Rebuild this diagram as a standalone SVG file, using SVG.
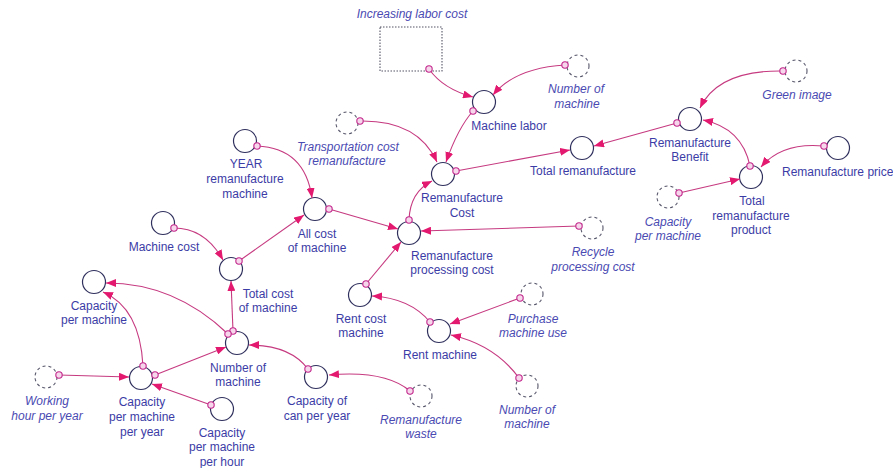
<svg xmlns="http://www.w3.org/2000/svg" width="893" height="468" viewBox="0 0 893 468">
  <defs>
    <marker id="arrow" markerUnits="userSpaceOnUse" markerWidth="11" markerHeight="8" refX="10" refY="4" orient="auto">
      <path d="M0,0 L10,4 L0,8 z" fill="#e3186f"/>
    </marker>
    <style>
      text { font-family: "Liberation Sans", Arial, sans-serif; font-size: 12px; fill: #3c3ca6; text-anchor: middle; }
      text.it { font-style: italic; fill: #4a4ab2; }
      .aux { fill: #ffffff; stroke: #30305e; stroke-width: 1.2; }
      .shadow { fill: #ffffff; stroke: #55556a; stroke-width: 1.1; stroke-dasharray: 3 3; }
      .stock { fill: #ffffff; stroke: #555566; stroke-width: 1.1; stroke-dasharray: 1.5 1.5; }
      .link { fill: none; stroke: #c63a80; stroke-width: 1.1; marker-end: url(#arrow); }
      .tail { fill: #f6d6ea; stroke: #c2278c; stroke-width: 1.1; }
    </style>
  </defs>
  <rect width="893" height="468" fill="#ffffff"/>

  <!-- nodes -->
  <g id="increasing-labor-cost">
    <rect class="stock" x="380" y="27" width="62" height="44"/>
    <text class="it" x="412" y="18">Increasing labor cost</text>
  </g>
  <g id="machine-labor">
    <circle class="aux" cx="484" cy="102" r="11.5"/>
    <text x="509" y="130">Machine labor</text>
  </g>
  <g id="number-of-machine-top">
    <circle class="shadow" cx="578" cy="66" r="11"/>
    <text class="it" x="576" y="93">Number of</text>
    <text class="it" x="577" y="108">machine</text>
  </g>
  <g id="transportation-cost">
    <circle class="shadow" cx="347" cy="123" r="11"/>
    <text class="it" x="348" y="151">Transportation cost</text>
    <text class="it" x="347" y="165">remanufacture</text>
  </g>
  <g id="remanufacture-cost">
    <circle class="aux" cx="443" cy="174" r="11.5"/>
    <text x="462" y="202">Remanufacture</text>
    <text x="462" y="217">Cost</text>
  </g>
  <g id="total-remanufacture">
    <circle class="aux" cx="582" cy="148" r="11.5"/>
    <text x="583" y="175">Total remanufacture</text>
  </g>
  <g id="green-image">
    <circle class="shadow" cx="796" cy="71" r="11"/>
    <text class="it" x="797" y="99">Green image</text>
  </g>
  <g id="remanufacture-benefit">
    <circle class="aux" cx="690" cy="119" r="11.5"/>
    <text x="690" y="147">Remanufacture</text>
    <text x="690" y="161">Benefit</text>
  </g>
  <g id="total-remanufacture-product">
    <circle class="aux" cx="751" cy="177" r="11.5"/>
    <text x="752" y="205">Total</text>
    <text x="751" y="220">remanufacture</text>
    <text x="751" y="234">product</text>
  </g>
  <g id="remanufacture-price">
    <circle class="aux" cx="838" cy="148" r="11.5"/>
    <text x="782" y="176" style="text-anchor:start">Remanufacture price</text>
  </g>
  <g id="capacity-per-machine-shadow">
    <circle class="shadow" cx="668" cy="197" r="11"/>
    <text class="it" x="668" y="226">Capacity</text>
    <text class="it" x="668" y="240">per machine</text>
  </g>
  <g id="year-remanufacture-machine">
    <circle class="aux" cx="245" cy="141" r="11.5"/>
    <text x="246" y="168">YEAR</text>
    <text x="245" y="183">remanufacture</text>
    <text x="245" y="198">machine</text>
  </g>
  <g id="all-cost-of-machine">
    <circle class="aux" cx="315" cy="209" r="11.5"/>
    <text x="317" y="238">All cost</text>
    <text x="317" y="252">of machine</text>
  </g>
  <g id="remanufacture-processing-cost">
    <circle class="aux" cx="409" cy="233" r="11.5"/>
    <text x="452" y="260">Remanufacture</text>
    <text x="452" y="274">processing cost</text>
  </g>
  <g id="recycle-processing-cost">
    <circle class="shadow" cx="592" cy="228" r="11"/>
    <text class="it" x="593" y="256">Recycle</text>
    <text class="it" x="593" y="271">processing cost</text>
  </g>
  <g id="machine-cost">
    <circle class="aux" cx="163" cy="223" r="11.5"/>
    <text x="164" y="251">Machine cost</text>
  </g>
  <g id="total-cost-of-machine">
    <circle class="aux" cx="231" cy="269" r="11.5"/>
    <text x="268" y="298">Total cost</text>
    <text x="268" y="312">of machine</text>
  </g>
  <g id="capacity-per-machine">
    <circle class="aux" cx="94" cy="282" r="11.5"/>
    <text x="94" y="310">Capacity</text>
    <text x="94" y="324">per machine</text>
  </g>
  <g id="number-of-machine">
    <circle class="aux" cx="237" cy="343" r="11.5"/>
    <text x="238" y="372">Number of</text>
    <text x="238" y="386">machine</text>
  </g>
  <g id="working-hour-per-year">
    <circle class="shadow" cx="46" cy="377" r="11"/>
    <text class="it" x="47" y="405">Working</text>
    <text class="it" x="47" y="420">hour per year</text>
  </g>
  <g id="capacity-per-machine-per-year">
    <circle class="aux" cx="141" cy="378" r="11.5"/>
    <text x="142" y="406">Capacity</text>
    <text x="142" y="421">per machine</text>
    <text x="142" y="436">per year</text>
  </g>
  <g id="capacity-per-machine-per-hour">
    <circle class="aux" cx="222" cy="409" r="11.5"/>
    <text x="222" y="437">Capacity</text>
    <text x="222" y="451">per machine</text>
    <text x="222" y="466">per hour</text>
  </g>
  <g id="capacity-of-can-per-year">
    <circle class="aux" cx="316" cy="377" r="11.5"/>
    <text x="317" y="405">Capacity of</text>
    <text x="317" y="420">can per year</text>
  </g>
  <g id="remanufacture-waste">
    <circle class="shadow" cx="421" cy="396" r="11"/>
    <text class="it" x="421" y="424">Remanufacture</text>
    <text class="it" x="421" y="438">waste</text>
  </g>
  <g id="rent-cost-machine">
    <circle class="aux" cx="360" cy="295" r="11.5"/>
    <text x="361" y="323">Rent cost</text>
    <text x="361" y="337">machine</text>
  </g>
  <g id="rent-machine">
    <circle class="aux" cx="439" cy="331" r="11.5"/>
    <text x="440" y="359">Rent machine</text>
  </g>
  <g id="purchase-machine-use">
    <circle class="shadow" cx="532" cy="294" r="11"/>
    <text class="it" x="533" y="323">Purchase</text>
    <text class="it" x="533" y="337">machine use</text>
  </g>
  <g id="number-of-machine-bottom">
    <circle class="shadow" cx="527" cy="386" r="11"/>
    <text class="it" x="527" y="414">Number of</text>
    <text class="it" x="527" y="428">machine</text>
  </g>

  <!-- connectors -->
  <g id="connectors">
    <path class="link" d="M429,69 Q443,89 473,97"/>
    <path class="link" d="M565,65 Q515,68 493,95"/>
    <path class="link" d="M473,111 Q458,128 446,162"/>
    <path class="link" d="M360,121 Q418,120 437,162"/>
    <path class="link" d="M456,171 L570,150"/>
    <path class="link" d="M677,123 L594,146"/>
    <path class="link" d="M783,71 Q718,70 700,108"/>
    <path class="link" d="M750,166 Q742,128 703,120"/>
    <path class="link" d="M824,146 Q782,142 761,167"/>
    <path class="link" d="M679,193 L740,179"/>
    <path class="link" d="M257,146 Q305,148 312,198"/>
    <path class="link" d="M329,209 L398,229"/>
    <path class="link" d="M409,220 Q410,192 432,181"/>
    <path class="link" d="M579,226 L421,231"/>
    <path class="link" d="M366,284 L401,242"/>
    <path class="link" d="M174,228 Q205,228 223,260"/>
    <path class="link" d="M239,261 L304,215"/>
    <path class="link" d="M233,331 L231,281"/>
    <path class="link" d="M228,334 Q175,283 106,283"/>
    <path class="link" d="M143,366 Q140,308 103,292"/>
    <path class="link" d="M59,375 L129,377"/>
    <path class="link" d="M155,375 L226,347"/>
    <path class="link" d="M211,405 L152,384"/>
    <path class="link" d="M308,369 Q290,345 249,345"/>
    <path class="link" d="M410,391 Q385,370 329,375"/>
    <path class="link" d="M430,322 Q410,298 372,296"/>
    <path class="link" d="M520,298 L450,324"/>
    <path class="link" d="M519,378 Q495,345 451,335"/>

    <circle class="tail" cx="429" cy="69" r="3.2"/>
    <circle class="tail" cx="565" cy="65" r="3.2"/>
    <circle class="tail" cx="473" cy="111" r="3.2"/>
    <circle class="tail" cx="360" cy="121" r="3.2"/>
    <circle class="tail" cx="456" cy="171" r="3.2"/>
    <circle class="tail" cx="677" cy="123" r="3.2"/>
    <circle class="tail" cx="783" cy="71" r="3.2"/>
    <circle class="tail" cx="750" cy="166" r="3.2"/>
    <circle class="tail" cx="824" cy="146" r="3.2"/>
    <circle class="tail" cx="679" cy="193" r="3.2"/>
    <circle class="tail" cx="257" cy="146" r="3.2"/>
    <circle class="tail" cx="329" cy="209" r="3.2"/>
    <circle class="tail" cx="409" cy="220" r="3.2"/>
    <circle class="tail" cx="579" cy="226" r="3.2"/>
    <circle class="tail" cx="366" cy="284" r="3.2"/>
    <circle class="tail" cx="174" cy="228" r="3.2"/>
    <circle class="tail" cx="239" cy="261" r="3.2"/>
    <circle class="tail" cx="233" cy="331" r="3.2"/>
    <circle class="tail" cx="228" cy="334" r="3.2"/>
    <circle class="tail" cx="143" cy="366" r="3.2"/>
    <circle class="tail" cx="59" cy="375" r="3.2"/>
    <circle class="tail" cx="155" cy="375" r="3.2"/>
    <circle class="tail" cx="211" cy="405" r="3.2"/>
    <circle class="tail" cx="308" cy="369" r="3.2"/>
    <circle class="tail" cx="410" cy="391" r="3.2"/>
    <circle class="tail" cx="430" cy="322" r="3.2"/>
    <circle class="tail" cx="520" cy="298" r="3.2"/>
    <circle class="tail" cx="519" cy="378" r="3.2"/>
  </g>
</svg>
